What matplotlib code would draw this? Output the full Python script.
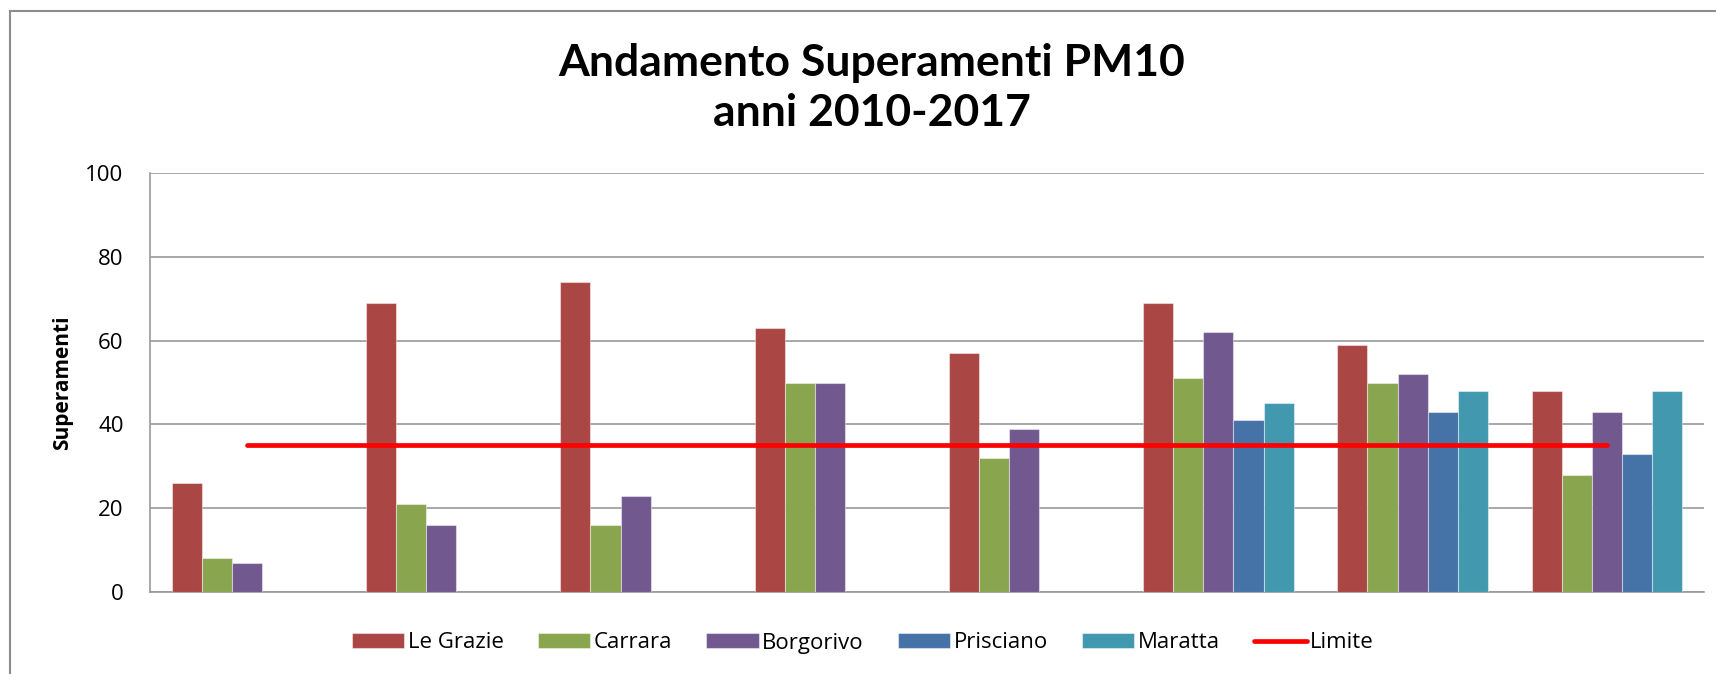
import matplotlib
matplotlib.use("Agg")
import matplotlib.pyplot as plt
from matplotlib.patches import Rectangle
import numpy as np

years = ["2010", "2011", "2012", "2013", "2014", "2015", "2016", "2017"]
le_grazie = [26, 69, 74, 63, 57, 69, 59, 48]
carrara = [8, 21, 16, 50, 32, 51, 50, 28]
borgorivo = [7, 16, 23, 50, 39, 62, 52, 43]
prisciano = [None, None, None, None, None, 41, 43, 33]
maratta = [None, None, None, None, None, 45, 48, 48]
limite = [35] * 8

series_names = ["Le Grazie", "Carrara", "Borgorivo", "Prisciano", "Maratta"]
series_vals = [le_grazie, carrara, borgorivo, prisciano, maratta]
colors = ["#AA4643", "#89A54E", "#71588F", "#4572A7", "#4198AF"]

plt.rcParams['font.family'] = ['Open Sans', 'DejaVu Sans']

W, H = 1716, 674
fig = plt.figure(figsize=(W / 100, H / 100), dpi=100)
ax = fig.add_axes([150 / W, 1 - 592 / H, (1704 - 150) / W, (592 - 173) / H])

x = np.arange(len(years))
bw = 0.155
handles = []
for i, (name, vals, c) in enumerate(zip(series_names, series_vals, colors)):
    xs = [xi + (i - 2) * bw for xi, v in zip(x, vals) if v is not None]
    ys = [v for v in vals if v is not None]
    b = ax.bar(xs, ys, width=bw, color=c, edgecolor=(1, 1, 1, 0.45), linewidth=0.8,
               label=name, zorder=3)
    handles.append(b)

ln, = ax.plot(x, limite, color="#FF0000", linewidth=3.4, solid_capstyle="round",
              label="Limite", zorder=4)
handles.append(ln)

ax.set_xlim(-0.5, len(years) - 0.5)
ax.set_ylim(0, 100)
ax.set_yticks([0, 20, 40, 60, 80, 100])
ax.set_xticks([])
ax.yaxis.grid(True, color="#999999", linewidth=1.2, zorder=0)
ax.set_axisbelow(True)
for s in ["top", "right"]:
    ax.spines[s].set_visible(False)
for s in ["left", "bottom"]:
    ax.spines[s].set_color("#999999")
    ax.spines[s].set_linewidth(1.2)
ax.tick_params(axis="y", length=0, labelsize=16, pad=19)
ax.set_ylabel("Superamenti", fontsize=15, fontweight="bold", labelpad=9)

fig.text(872 / W, 1 - 88 / H, "Andamento Superamenti PM10\nanni 2010-2017",
         ha="center", va="center", fontsize=32, fontweight="bold",
         family=["Lato", "DejaVu Sans"], linespacing=1.3)

# outer chart border
fig.add_artist(Rectangle((10 / W, -0.05), 1.2, 1 - 11 / H + 0.05,
                         transform=fig.transFigure, fill=False,
                         edgecolor="#8c8c8c", linewidth=1.5))

labels = series_names + ["Limite"]
fig.legend(handles, labels, loc="center left", bbox_to_anchor=(352 / W, 1 - 643 / H),
           ncol=6, frameon=False, fontsize=16, handlelength=2.35, handleheight=0.63,
           columnspacing=1.55, handletextpad=0.15, borderpad=0, borderaxespad=0)

fig.savefig("out.png", dpi=100)
